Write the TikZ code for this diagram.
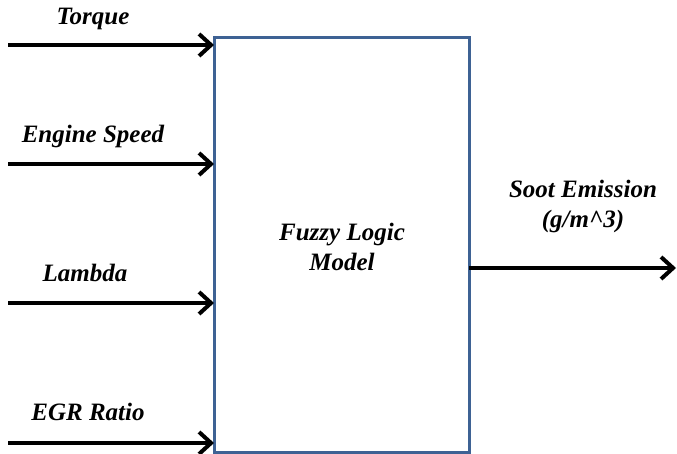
\documentclass[tikz,border=0pt]{standalone}
\usepackage{fontspec}
\setmainfont{Liberation Serif}
\usetikzlibrary{arrows.meta}
\definecolor{boxblue}{RGB}{62,98,148}
\begin{document}
\begin{tikzpicture}[x=1pt,y=-1pt,
  lbl/.style={font=\fontsize{25}{30}\selectfont\bfseries\itshape, inner sep=0pt, align=center},
  flow/.style={line width=4pt, -{Straight Barb[length=12pt,width=22pt,line width=4pt]}}]
\useasboundingbox (0,0) rectangle (677,454);
\node[draw=boxblue, line width=3pt, minimum width=255pt, minimum height=414pt, inner sep=0pt] (fl) at (341.5,245) {};
\node[lbl] (fltext) at (342,247) {Fuzzy Logic\\Model};
\coordinate (s1) at (8,45);
\coordinate (s2) at (8,164);
\coordinate (s3) at (8,303);
\coordinate (s4) at (8,443);
\coordinate (e1) at (214,45);
\coordinate (e2) at (214,164);
\coordinate (e3) at (214,303);
\coordinate (e4) at (214,443);
\coordinate (o1) at (469,268);
\coordinate (o2) at (676,268);
\draw[flow] (s1) -- (e1);
\draw[flow] (s2) -- (e2);
\draw[flow] (s3) -- (e3);
\draw[flow] (s4) -- (e4);
\draw[flow] (o1) -- (o2);
\node[lbl] (t1) at (93,19) {Torque};
\node[lbl] (t2) at (93,136) {Engine Speed};
\node[lbl] (t3) at (85,273) {Lambda};
\node[lbl] (t4) at (88,412) {EGR Ratio};
\node[lbl] (t5) at (583,206) {Soot Emission\\(g/m\textasciicircum 3)};
\end{tikzpicture}
\end{document}
